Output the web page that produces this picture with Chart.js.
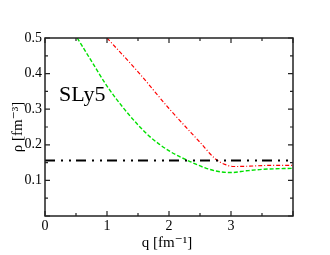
<!DOCTYPE html>
<html>
<head>
<meta charset="utf-8">
<script src="https://cdn.jsdelivr.net/npm/chart.js@4/dist/chart.umd.min.js"></script>
<style>
  html, body { margin: 0; padding: 0; background: #fff; }
  #wrap { width: 330px; height: 255px; }
</style>
</head>
<body>
<div id="wrap"><canvas id="rhoChart"></canvas></div>
<script>
// datos
const greenQ   = [0.52, 0.75, 1.00, 1.29, 1.50, 1.69, 2.02, 2.34, 2.60, 2.80, 3.00, 3.25, 3.50, 4.00];
const greenRho = [0.50, 0.435, 0.365, 0.298, 0.256, 0.223, 0.181, 0.153, 0.134, 0.125, 0.122, 0.127, 0.131, 0.134];

const redQ   = [1.00, 1.50, 2.00, 2.50, 2.75, 2.90, 3.05, 3.30, 3.60, 4.00];
const redRho = [0.50, 0.405, 0.302, 0.207, 0.160, 0.145, 0.139, 0.140, 0.142, 0.142];

const lineQ   = [0, 4];
const lineRho = [0.156, 0.156];

const xTicks = [0, 1, 2, 3];
const yTicks = [0.1, 0.2, 0.3, 0.4, 0.5];

const toPts = (xs, ys) => xs.map((x, i) => ({ x: x, y: ys[i] }));

const ctx = document.getElementById('rhoChart');
const serif = '"Liberation Serif", "DejaVu Serif", serif';

// marco con marcas hacia dentro y textos
const framePlugin = {
  id: 'frame',
  afterDraw(chart) {
    const c = chart.ctx, a = chart.chartArea;
    const xs = chart.scales.x, ys = chart.scales.y;
    c.save();
    c.strokeStyle = '#222';
    c.lineWidth = 1.5;
    c.strokeRect(a.left, a.top, a.right - a.left, a.bottom - a.top);
    c.lineWidth = 1.2;
    c.beginPath();
    for (let v = 0; v <= 4.001; v += 0.5) {
      const px = xs.getPixelForValue(v);
      const len = Math.abs(v - Math.round(v)) < 0.01 ? 5 : 3;
      c.moveTo(px, a.bottom); c.lineTo(px, a.bottom - len);
      c.moveTo(px, a.top); c.lineTo(px, a.top + len);
    }
    for (let k = 0; k <= 10; k++) {
      const py = ys.getPixelForValue(k * 0.05);
      const len = k % 2 === 0 ? 5 : 3;
      c.moveTo(a.left, py); c.lineTo(a.left + len, py);
      c.moveTo(a.right, py); c.lineTo(a.right - len, py);
    }
    c.stroke();

    c.fillStyle = '#000';
    c.font = '22px ' + serif;
    c.textBaseline = 'alphabetic';
    c.textAlign = 'left';
    c.fillText('SLy5', 59, 101);

    c.font = '15px ' + serif;
    c.textAlign = 'center';
    c.fillText('q [fm\u207B\u00B9]', 167, 247);

    c.translate(22, 127);
    c.rotate(-Math.PI / 2);
    c.fillText('\u03C1 [fm\u207B\u00B3]', 0, 0);
    c.restore();
  }
};

new Chart(ctx, {
  type: 'scatter',
  data: {
    datasets: [
      {
        data: toPts(lineQ, lineRho),
        showLine: true,
        borderColor: '#000',
        borderWidth: 2,
        borderDash: [10, 6, 2, 6, 2, 5],
        pointRadius: 0
      },
      {
        data: toPts(redQ, redRho),
        showLine: true,
        borderColor: '#ff0000',
        borderWidth: 1.2,
        borderDash: [4, 2, 1, 2],
        pointRadius: 0,
        cubicInterpolationMode: 'monotone'
      },
      {
        data: toPts(greenQ, greenRho),
        showLine: true,
        borderColor: '#00e000',
        borderWidth: 1.4,
        borderDash: [4, 2],
        pointRadius: 0,
        cubicInterpolationMode: 'monotone'
      }
    ]
  },
  options: {
    responsive: true,
    maintainAspectRatio: false,
    animation: false,
    layout: { padding: { top: 38, right: 37, left: 0, bottom: 0 } },
    plugins: { legend: { display: false }, tooltip: { enabled: false } },
    scales: {
      x: {
        type: 'linear',
        min: 0, max: 4,
        afterBuildTicks: s => { s.ticks = xTicks.map(v => ({ value: v })); },
        afterFit: s => { s.height = 39; },
        grid: { display: false, drawTicks: false },
        border: { display: false },
        ticks: { color: '#000', font: { family: serif, size: 14 }, padding: 2 }
      },
      y: {
        type: 'linear',
        min: 0, max: 0.5,
        afterBuildTicks: s => { s.ticks = yTicks.map(v => ({ value: v })); },
        afterFit: s => { s.width = 45; },
        grid: { display: false, drawTicks: false },
        border: { display: false },
        ticks: { color: '#000', font: { family: serif, size: 14 }, padding: 3,
                 callback: v => v.toFixed(1) }
      }
    }
  },
  plugins: [framePlugin]
});
</script>
</body>
</html>
